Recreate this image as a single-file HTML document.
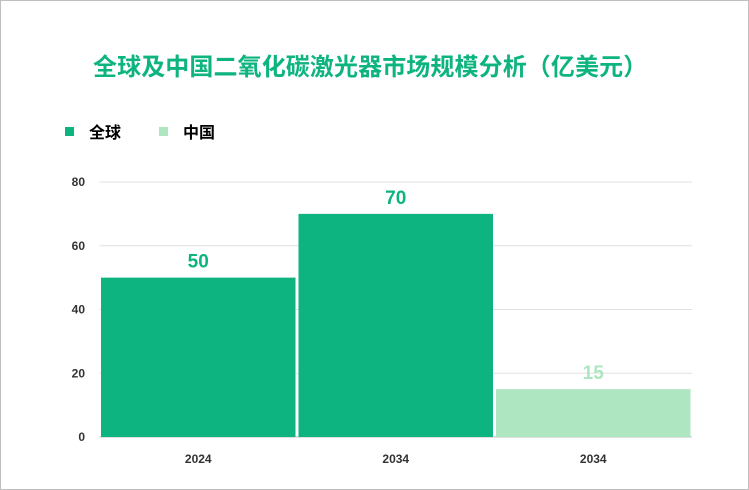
<!DOCTYPE html>
<html><head><meta charset="utf-8">
<style>
html,body{margin:0;padding:0;background:#fff;}
#wrap{position:relative;width:747px;height:488px;border:1px solid #bfbfbf;overflow:hidden;font-family:"Liberation Sans","Noto Sans CJK SC",sans-serif;}
#title{position:absolute;left:92px;top:46px;font-size:24px;font-weight:bold;color:#0db47f;white-space:nowrap;letter-spacing:0.1px;}
.leg{position:absolute;top:118px;font-size:16px;font-weight:bold;color:#000;display:flex;align-items:center;}
.sw{width:9px;height:9px;margin-right:15px;}
svg{position:absolute;left:0;top:0;}
</style></head><body>
<div id="wrap">
<div id="title">全球及中国二氧化碳激光器市场规模分析（亿美元）</div>
<div class="leg" style="left:64px"><div class="sw" style="background:#0db47f"></div>全球</div>
<div class="leg" style="left:158px"><div class="sw" style="background:#ade6c1"></div>中国</div>
<svg id="chart" width="749" height="490"></svg>
</div>
<script>
const categories=["2024","2034","2034"];
const values=[50,70,15];
const seriesOf=["全球","全球","中国"];
const yTicks=[0,20,40,60,80];
const colors={"全球":"#0db47f","中国":"#ade6c1"};
const NS="http://www.w3.org/2000/svg";
const svg=document.getElementById('chart');
const x0=98.5,x1=691,yBase=436,yTop=181,yMax=80;
const y=v=>yBase-(yBase-yTop)*v/yMax;
const band=(x1-x0)/categories.length;
function mk(t,a){const e=document.createElementNS(NS,t);for(const k in a)e.setAttribute(k,a[k]);svg.appendChild(e);return e;}
yTicks.forEach(t=>{
 const l=mk('line',{x1:x0,x2:x1,y1:y(t),y2:y(t),stroke:t===0?'#bfbfbf':'#e0e0e0','stroke-width':1});
 
 
 const tx=mk('text',{x:84,y:y(t)+4,'text-anchor':'end','font-size':12,'font-weight':'bold',fill:'#333','font-family':'Liberation Sans,sans-serif'});
 tx.textContent=t;
 
 
});
categories.forEach((c,i)=>{
 const bx=x0+band*i+1.5,bw=band-3;
 const r=mk('rect',{x:bx,y:y(values[i]),width:bw,height:yBase-y(values[i]),fill:colors[seriesOf[i]]});
 
 
 const v=mk('text',{x:bx+bw/2,y:y(values[i])-10,'text-anchor':'middle','font-size':19,'font-weight':'bold',fill:colors[seriesOf[i]],'font-family':'Liberation Sans,sans-serif'});
 v.textContent=values[i];
 
 
 const xl=mk('text',{x:bx+bw/2,y:462,'text-anchor':'middle','font-size':12,'font-weight':'bold',fill:'#333','font-family':'Liberation Sans,sans-serif'});
 xl.textContent=c;
 
 
});
</script>
</body></html>
